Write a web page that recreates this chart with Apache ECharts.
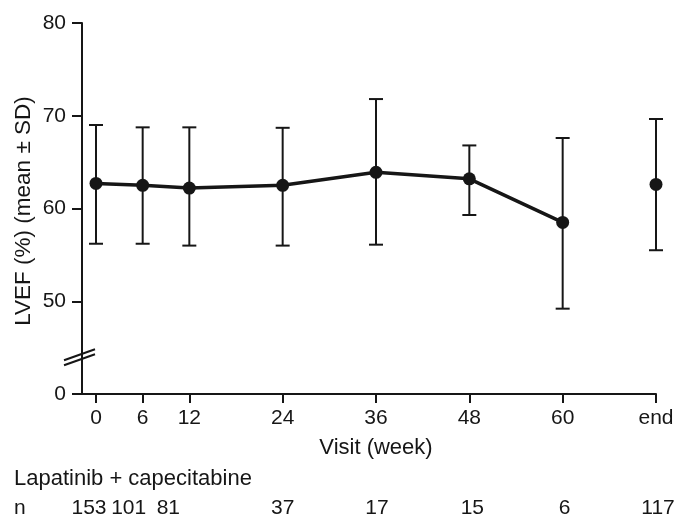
<!DOCTYPE html>
<html>
<head>
<meta charset="utf-8">
<script src="https://cdn.jsdelivr.net/npm/echarts@6/dist/echarts.min.js"></script>
<style>
html,body{margin:0;padding:0;background:#fff;}
#c{width:677px;height:521px;}
</style>
</head>
<body>
<div id="c"></div>
<script>
// ---- data ----
var weeks = [0, 6, 12, 24, 36, 48, 60, 72];          // 72 = "end" visit
var tickLabels = ['0', '6', '12', '24', '36', '48', '60', 'end'];
var means = [62.7, 62.5, 62.2, 62.5, 63.9, 63.2, 58.5, 62.6];
var upper = [69.0, 68.75, 68.75, 68.7, 71.8, 66.8, 67.6, 69.65];
var lower = [56.2, 56.2, 56.0, 56.0, 56.1, 59.3, 49.2, 55.5];
var nCounts = [153, 101, 81, 37, 17, 15, 6, 117];
var yTicks = [40, 50, 60, 70, 80];
var yTickLabels = ['0', '50', '60', '70', '80'];   // axis broken: 40 slot shows 0
var connected = [true, true, true, true, true, true, true, false];

// layout tweaks for n row (pixel nudges)
var nOffsets = [-7, -14, -21, 0, 1, 3, 2, 2];

var FONT = '"Liberation Sans", Arial, Helvetica, sans-serif';
var INK = '#161616';

var lineData = [], endData = [], barData = [];
for (var i = 0; i < weeks.length; i++) {
  if (connected[i]) lineData.push([weeks[i], means[i]]);
  else endData.push([weeks[i], means[i]]);
  barData.push([weeks[i], lower[i], upper[i]]);
}

var chart = echarts.init(document.getElementById('c'), null, {renderer: 'canvas'});
var option = {
  animation: false,
  backgroundColor: '#fff',
  grid: {left: 82, right: 21, top: 23, bottom: 127, containLabel: false},
  xAxis: {
    type: 'value', min: -1.8, max: 72,
    axisLine: {show: true, onZero: false, lineStyle: {color: INK, width: 2}},
    axisTick: {show: true, length: 9, lineStyle: {color: INK, width: 2}, customValues: weeks},
    axisLabel: {
      customValues: weeks, margin: 14, fontFamily: FONT, fontSize: 21, color: INK,
      formatter: function (v) { var k = weeks.indexOf(v); return k >= 0 ? tickLabels[k] : ''; }
    },
    splitLine: {show: false}
  },
  yAxis: {
    type: 'value', min: 40, max: 80, interval: 10,
    axisLine: {show: true, onZero: false, lineStyle: {color: INK, width: 2}},
    axisTick: {show: true, length: 10, lineStyle: {color: INK, width: 2}},
    axisLabel: {
      margin: 16, fontFamily: FONT, fontSize: 21, color: INK,
      formatter: function (v) { var k = yTicks.indexOf(v); return k >= 0 ? yTickLabels[k] : ''; }
    },
    splitLine: {show: false}
  },
  series: [
    {
      type: 'custom',
      data: barData,
      z: 2,
      renderItem: function (params, api) {
        var x = api.value(0);
        var lo = api.coord([x, api.value(1)]);
        var hi = api.coord([x, api.value(2)]);
        var hw = 7;
        var st = {stroke: INK, lineWidth: 2, fill: null};
        return {
          type: 'group',
          children: [
            {type: 'line', shape: {x1: lo[0], y1: lo[1], x2: hi[0], y2: hi[1]}, style: st},
            {type: 'line', shape: {x1: hi[0] - hw, y1: hi[1], x2: hi[0] + hw, y2: hi[1]}, style: st},
            {type: 'line', shape: {x1: lo[0] - hw, y1: lo[1], x2: lo[0] + hw, y2: lo[1]}, style: st}
          ]
        };
      }
    },
    {
      type: 'line',
      data: lineData,
      z: 3,
      symbol: 'circle', symbolSize: 13,
      lineStyle: {color: INK, width: 3.5},
      itemStyle: {color: INK, opacity: 1}
    },
    {
      type: 'scatter',
      data: endData,
      z: 3,
      symbol: 'circle', symbolSize: 13,
      itemStyle: {color: INK, opacity: 1}
    }
  ]
};
chart.setOption(option);

// decorations and text rows
var gr = [];
var bp = chart.convertToPixel({gridIndex: 0}, [-1.8, 43.8]);
var ax = bp[0], ay = bp[1];
gr.push({type: 'line', shape: {x1: ax - 18, y1: ay + 6.5, x2: ax + 13, y2: ay - 4.5}, style: {stroke: INK, lineWidth: 2}});
gr.push({type: 'line', shape: {x1: ax - 18, y1: ay + 1.5, x2: ax + 13, y2: ay - 9.5}, style: {stroke: INK, lineWidth: 2}});

var TF = '21px "Liberation Sans", Arial, sans-serif';
var TF2 = '22px "Liberation Sans", Arial, sans-serif';
var TF3 = '22.5px "Liberation Sans", Arial, sans-serif';
gr.push({type: 'text', x: 23.5, y: 211, rotation: Math.PI / 2,
  style: {text: 'LVEF (%) (mean \u00b1 SD)', font: TF3, fill: INK, align: 'center', verticalAlign: 'middle'}});
gr.push({type: 'text', x: 376, y: 448,
  style: {text: 'Visit (week)', font: TF2, fill: INK, align: 'center', verticalAlign: 'middle'}});
gr.push({type: 'text', x: 14, y: 479,
  style: {text: 'Lapatinib + capecitabine', font: TF2, fill: INK, align: 'left', verticalAlign: 'middle'}});
gr.push({type: 'text', x: 14, y: 508,
  style: {text: 'n', font: TF, fill: INK, align: 'left', verticalAlign: 'middle'}});
for (var j = 0; j < weeks.length; j++) {
  var px = chart.convertToPixel({gridIndex: 0}, [weeks[j], 50])[0];
  gr.push({type: 'text', x: px + nOffsets[j], y: 508,
    style: {text: String(nCounts[j]), font: TF, fill: INK, align: 'center', verticalAlign: 'middle'}});
}
chart.setOption({graphic: {elements: gr}});
</script>
</body>
</html>
